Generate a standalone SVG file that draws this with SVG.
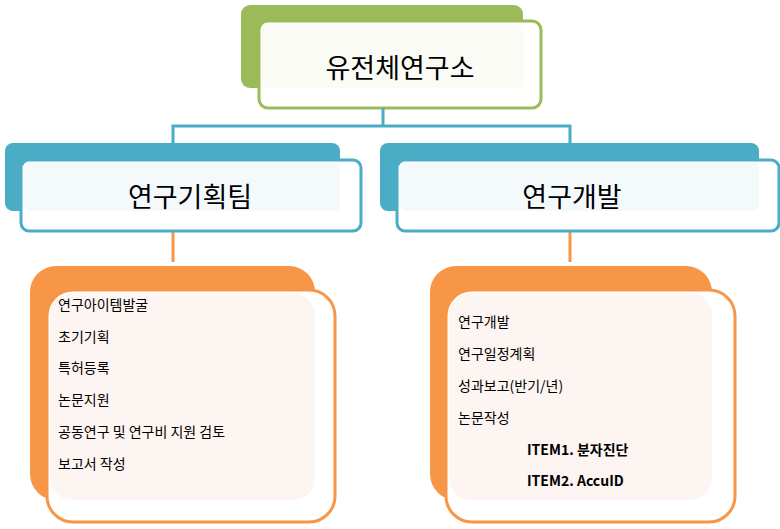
<svg xmlns="http://www.w3.org/2000/svg" width="780" height="529" viewBox="0 0 780 529">
<style>
text{font-family:"Noto Sans CJK KR","Liberation Sans",sans-serif;fill:#000}
.t{font-size:27px;text-anchor:middle}
.s{font-size:14px}
.b{font-size:14px;font-weight:bold}
.con{fill:none;stroke-width:3}
</style>
<rect width="780" height="529" fill="#fff"/>
<g id="root">
<rect x="241" y="5" width="282" height="83" rx="9" fill="#9bbb59"/>
<rect x="259" y="21" width="282" height="87" rx="9" fill="#fff" stroke="#9bbb59" stroke-width="3"/>
<rect x="262" y="24" width="262" height="64" rx="6" fill="#fafbf4"/>
<text class="t" x="400" y="78">유전체연구소</text>
</g>
<g id="connectors">
<path class="con" stroke="#4bacc6" d="M383 108V126M173 143V126H570V143"/>
<path class="con" stroke="#f79646" d="M173 231V262M570 231V262"/>
</g>
<g id="planning">
<rect x="5" y="143" width="335" height="68" rx="8" fill="#4bacc6"/>
<rect x="21" y="160" width="340" height="71" rx="8" fill="#fff" stroke="#4bacc6" stroke-width="3"/>
<rect x="24" y="163" width="316" height="48" rx="5" fill="#f4f9fc"/>
<text class="t" x="190" y="207">연구기획팀</text>
</g>
<g id="rnd">
<rect x="380" y="143" width="379" height="68" rx="8" fill="#4bacc6"/>
<rect x="397" y="160" width="382" height="71" rx="8" fill="#fff" stroke="#4bacc6" stroke-width="3"/>
<rect x="400" y="163" width="359" height="48" rx="5" fill="#f4f9fc"/>
<text class="t" x="572" y="207">연구개발</text>
</g>
<g id="planning-tasks">
<rect x="30" y="266" width="285" height="234" rx="26" fill="#f79646"/>
<rect x="47" y="290" width="288" height="232" rx="26" fill="#fff" stroke="#f79646" stroke-width="3"/>
<rect x="50" y="293" width="265" height="207" rx="22" fill="#fdf5f1"/>
<text class="s" x="58" y="310">연구아이템발굴</text>
<text class="s" x="58" y="342">초기기획</text>
<text class="s" x="58" y="373">특허등록</text>
<text class="s" x="58" y="405">논문지원</text>
<text class="s" x="58" y="437">공동연구 및 연구비 지원 검토</text>
<text class="s" x="58" y="469">보고서 작성</text>
</g>
<g id="rnd-tasks">
<rect x="430" y="266" width="282" height="234" rx="26" fill="#f79646"/>
<rect x="446" y="290" width="289" height="232" rx="26" fill="#fff" stroke="#f79646" stroke-width="3"/>
<rect x="449" y="293" width="263" height="207" rx="22" fill="#fdf5f1"/>
<text class="s" x="458" y="327">연구개발</text>
<text class="s" x="458" y="359">연구일정계획</text>
<text class="s" x="458" y="391">성과보고(반기/년)</text>
<text class="s" x="458" y="423">논문작성</text>
<text class="b" x="527" y="455">ITEM1. 분자진단</text>
<text class="b" x="527" y="486">ITEM2. AccuID</text>
</g>
</svg>
